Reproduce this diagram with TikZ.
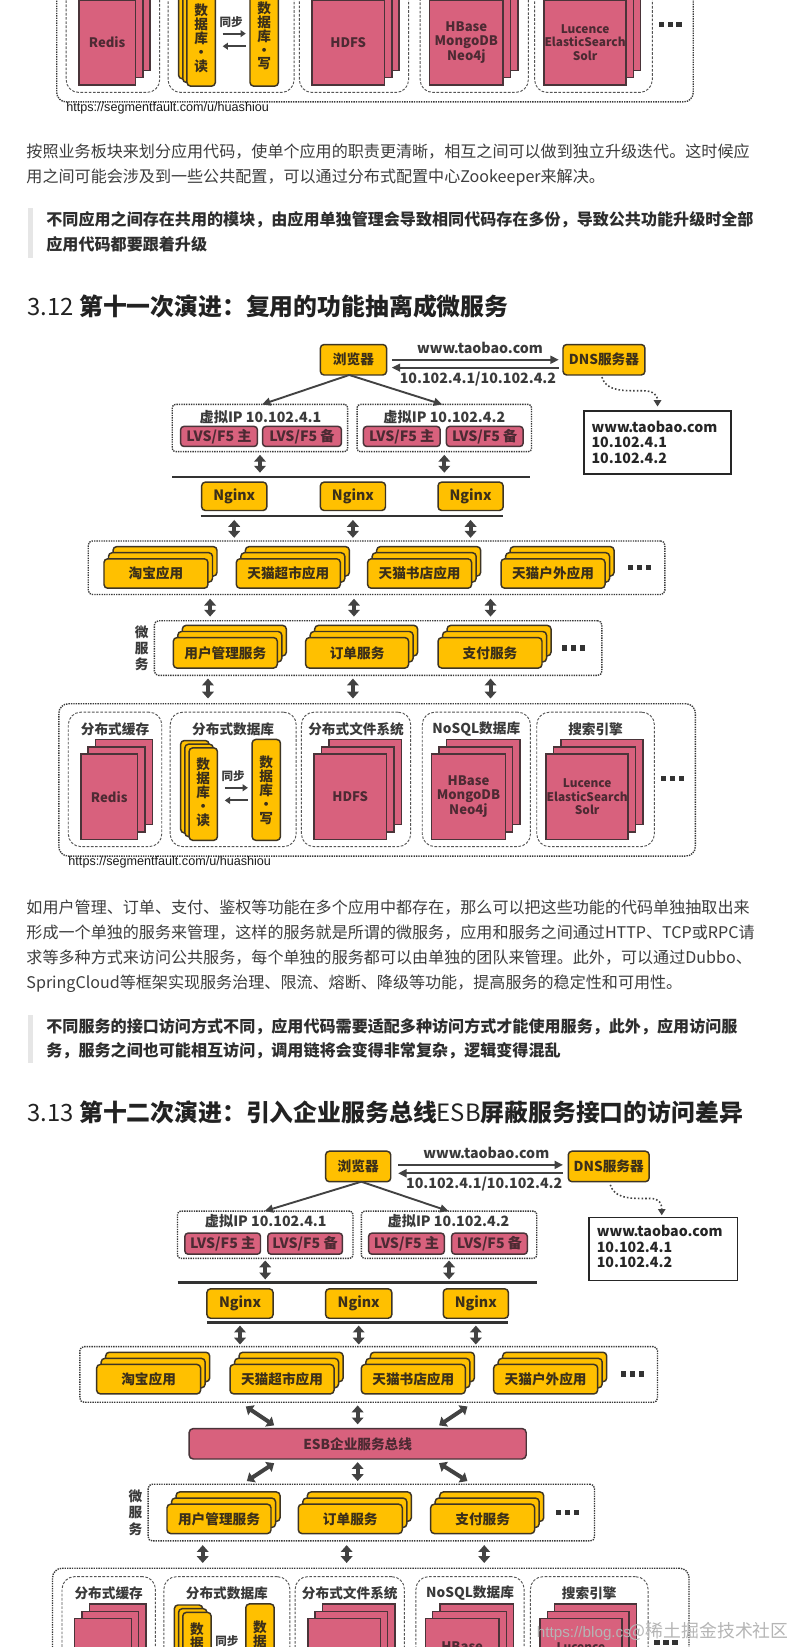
\documentclass[tikz,border=0pt]{standalone}
\usepackage{fontspec}
\setmainfont{Noto Sans CJK SC}
\newfontfamily\dgfam{Noto Sans CJK SC}
\newfontfamily\urlfam{Liberation Sans}
\usetikzlibrary{arrows.meta}
\definecolor{yfill}{HTML}{FFC000}
\definecolor{ybord}{HTML}{3E3524}
\definecolor{pfill}{HTML}{D8617D}
\definecolor{pbord}{HTML}{4A3439}
\definecolor{ytext}{HTML}{3B2F1A}
\definecolor{ptext}{HTML}{4D2A33}
\definecolor{lblc}{HTML}{3A3A3A}
\definecolor{arrc}{HTML}{424242}
\definecolor{busc}{HTML}{333333}
\definecolor{dotc}{HTML}{3A3A3A}
\definecolor{dashc}{HTML}{555555}
\definecolor{dotsc}{HTML}{333333}
\definecolor{bodyc}{HTML}{3D3D3D}
\definecolor{bqc}{HTML}{2E2E2E}
\definecolor{headc}{HTML}{222222}
\definecolor{barc}{HTML}{E6E6E6}
\definecolor{urlc}{HTML}{1A1A1A}
\definecolor{wmc}{HTML}{B5B5B5}
\newcommand\dgfont{\dgfam\bfseries\fontsize{13}{15}\selectfont}
\newcommand\dglat{\dgfam\bfseries\fontsize{13.5}{14.8}\selectfont}
\newcommand\bodyfont{\fontsize{15.3}{18}\selectfont}
\newcommand\bqfont{\bfseries\fontsize{15.3}{18}\selectfont}
\newcommand\hdfont{\fontsize{22.7}{26}\selectfont}
\tikzset{
 ybox/.style={draw=ybord, fill=yfill, line width=1.4pt, rounded corners=3.5pt, inner sep=0pt, outer sep=0pt, text=ytext, font=\dgfont},
 ylayer/.style={draw=ybord, fill=yfill, line width=1.4pt, rounded corners=3.5pt},
 pbox/.style={draw=pbord, fill=pfill, line width=1.4pt, inner sep=0pt, outer sep=0pt, text=ptext, font=\dgfont, align=center},
 player/.style={draw=pbord, fill=pfill, line width=1.4pt},
 lvsbox/.style={pbox, rounded corners=3pt, font=\dglat},
 esbbox/.style={pbox, rounded corners=4pt},
 outerc/.style={draw=dotc, line width=1.3pt, densely dotted, rounded corners=9pt, inner sep=0pt, outer sep=0pt},
 innerc/.style={draw=dashc, line width=0.9pt, dash pattern=on 2.5pt off 1.5pt, rounded corners=12pt, inner sep=0pt, outer sep=0pt},
 ctbox/.style={draw=dotc, line width=1.3pt, densely dotted, rounded corners=4pt, inner sep=0pt, outer sep=0pt},
 vipbox/.style={ctbox, rounded corners=3pt},
 wbox/.style={draw=black!85, line width=1.6pt, inner sep=0pt, outer sep=0pt},
 lbl/.style={inner sep=0pt, text=lblc, font=\dglat},
 ttl/.style={inner sep=0pt, text=lblc, font=\dgfont},
 plbl/.style={inner sep=0pt, text=ptext, align=center, font={\dgfam\bfseries\fontsize{12.5}{13.2}\selectfont}},
 plbls/.style={inner sep=0pt, text=ptext, align=center, font={\dgfam\bfseries\fontsize{11.3}{13.2}\selectfont}},
 vlbl/.style={inner sep=0pt, text=ytext, align=center, font={\dgfam\bfseries\fontsize{13}{13.2}\selectfont}},
 sylbl/.style={inner sep=0pt, text=lblc, font={\dgfam\bfseries\fontsize{11}{12}\selectfont}},
 vtl/.style={inner sep=0pt, text=lblc, align=center, font={\dgfam\bfseries\fontsize{13}{15.5}\selectfont}},
 wtxt/.style={inner sep=0pt, anchor=west, align=left, text=black!85, font={\dgfam\bfseries\fontsize{13.5}{14.8}\selectfont}},
 dbl/.style={draw=arrc, line width=3.8pt, {Triangle[width=11pt,length=6.5pt]}-{Triangle[width=11pt,length=6.5pt]}},
 smarr/.style={draw=arrc, line width=2pt, -{Triangle[width=6.5pt,length=5pt]}},
 thinarr/.style={draw=arrc, line width=1.8pt, -{Triangle[width=7.5pt,length=8pt]}},
 dotarr/.style={draw=arrc, line width=1.5pt, dotted, -{Triangle[width=7pt,length=6pt]}},
 bus/.style={draw=busc, line width=2.2pt},
 body/.style={anchor=west, inner sep=0pt, text=bodyc, font=\bodyfont, text height=0.88em, text depth=0.12em},
 bq/.style={anchor=west, inner sep=0pt, text=bqc, font=\bqfont, text height=0.88em, text depth=0.12em},
 hd/.style={anchor=west, inner sep=0pt, text=headc, font=\hdfont, text height=0.88em, text depth=0.12em},
 urlst/.style={anchor=west, inner sep=0pt, text=urlc, font={\urlfam\fontsize{12}{14}\selectfont}},
}
% box node from corners: style, name, x1, y1, x2, y2, text
\newcommand\bx[7]{\node[#1, minimum width={(#5)-(#3)}, minimum height={(#6)-(#4)}] (#2) at ({((#3)+(#5))/2},{((#4)+(#6))/2}) {#7};}
% yellow stack: name, x1, y1, x2, y2, dx, dy, text
\newcommand\ystack[8]{%
 \filldraw[ylayer] ({#2+2*(#6)},{#3+2*(#7)}) rectangle ({#4+2*(#6)},{#5+2*(#7)});
 \filldraw[ylayer] ({#2+(#6)},{#3+(#7)}) rectangle ({#4+(#6)},{#5+(#7)});
 \bx{ybox}{#1}{#2}{#3}{#4}{#5}{#8}}
% pink stack: name, x1, y1, x2, y2
\newcommand\pstack[5]{%
 \filldraw[player] ({#2+14},{#3-14}) rectangle ({#4+14},{#5-14});
 \filldraw[player] ({#2+7},{#3-7}) rectangle ({#4+7},{#5-7});
 \bx{pbox}{#1}{#2}{#3}{#4}{#5}{}}
\newcommand\threedots[2]{%
 \fill[dotsc] (#1,{#2-2.5}) rectangle ++(5,5);
 \fill[dotsc] ({#1+8.5},{#2-2.5}) rectangle ++(5,5);
 \fill[dotsc] ({#1+17},{#2-2.5}) rectangle ++(5,5);}
% storage layer shapes: dx, dy, prefix
\newcommand\storeshapes[3]{%
\begin{scope}[shift={(#1,#2)}]
 \bx{outerc}{#3o}{56}{670}{662}{815}{}
 \bx{innerc}{#3i1}{65}{678}{154}{806}{}
 \bx{innerc}{#3i2}{162}{678}{282}{806}{}
 \bx{innerc}{#3i3}{287}{678}{391}{806}{}
 \bx{innerc}{#3i4}{402}{678}{505}{806}{}
 \bx{innerc}{#3i5}{511}{678}{623}{806}{}
 \pstack{#3p1}{77}{718}{131}{799}
 \pstack{#3p3}{299}{718}{368}{799}
 \pstack{#3p4}{411}{718}{481}{799}
 \pstack{#3p5}{520}{718}{598}{799}
 \filldraw[ylayer] (172,705) rectangle (199,793);
 \filldraw[ylayer] (176,708.5) rectangle (203,796.5);
 \bx{ybox}{#3rd}{180}{712}{207}{800}{}
 \bx{ybox}{#3wr}{240}{704}{267}{800}{}
 \coordinate (#3sa) at (214,750); \coordinate (#3sb) at (236,750);
 \coordinate (#3sc) at (236,762); \coordinate (#3sd) at (214,762);
 \draw[smarr] (#3sa) -- (#3sb);
 \draw[smarr] (#3sc) -- (#3sd);
 \threedots{629}{741}
\end{scope}}
\newcommand\storetitles[3]{%
\begin{scope}[shift={(#1,#2)}]
 \node[ttl] (#3t1) at (109.5,694) {分布式缓存};
 \node[ttl] (#3t2) at (222,694) {分布式数据库};
 \node[ttl] (#3t3) at (339,694) {分布式文件系统};
 \node[ttl] (#3t4) at (453.5,694) {NoSQL数据库};
 \node[ttl] (#3t5) at (567,694) {搜索引擎};
\end{scope}}
\newcommand\storelabels[3]{%
\begin{scope}[shift={(#1,#2)}]
 \node[plbl] (#3lr) at (104,758.5) {Redis};
 \node[plbl] (#3lh) at (333.5,758.5) {HDFS};
 \node[plbl] (#3ln) at (446,758.5) {HBase\\MongoDB\\Neo4j};
 \node[plbls] (#3le) at (559,758.5) {Lucence\\ElasticSearch\\Solr};
 \node[vlbl, anchor=north] (#3lrt) at (193.5,721.5) {数\\据\\库\\·\\读};
 \node[vlbl, anchor=north] (#3lwt) at (253.5,719.5) {数\\据\\库\\·\\写};
 \node[sylbl] (#3lsy) at (222,739) {同步};
\end{scope}}
\begin{document}
\begin{tikzpicture}[x=1pt,y=-1pt]
\useasboundingbox (0,0) rectangle (751,1568);
\clip (0,0) rectangle (751,1568);
\fill[white] (0,0) rectangle (751,1568);

% ===== continuation of previous diagram
\storeshapes{-2}{-718}{s0}
\storelabels{-2}{-718}{s0}
\node[urlst] (url0) at (63,103) {https://segmentfault.com/u/huashiou};

% ===== text block 1
\node[body] (p1a) at (25,146) {按照业务板块来划分应用代码，使单个应用的职责更清晰，相互之间可以做到独立升级迭代。这时候应};
\node[body] (p1b) at (25,170) {用之间可能会涉及到一些公共配置，可以通过分布式配置中心Zookeeper来解决。};
\fill[barc] (27,198) rectangle (31,246);
\node[bq] (q1a) at (44,211) {不同应用之间存在共用的模块，由应用单独管理会导致相同代码存在多份，导致公共功能升级时全部};
\node[bq] (q1b) at (44,235) {应用代码都要跟着升级};
\node[hd] (h1) at (26,297) {3.12 {\bfseries 第十一次演进：复用的功能抽离成微服务}};

% ===== diagram 3.12
\bx{ybox}{br1}{305}{328}{368}{357}{浏览器}
\bx{ybox}{dns1}{536}{328}{614}{357}{DNS服务器}
\draw[thinarr] ([xshift=5pt]br1.east) -- ([xshift=-4pt]dns1.west);
\draw[thinarr] ([xshift=-4pt,yshift=-7.5pt]dns1.west) -- ([xshift=5pt,yshift=-7.5pt]br1.east);
\node[lbl] (wl1) at (457,331) {www.taobao.com};
\node[lbl] (il1) at (455,361) {10.102.4.1/10.102.4.2};
\bx{wbox}{www1}{556}{391}{696}{451}{}
\node[wtxt] (wt1) at (563,421) {www.taobao.com\\10.102.4.1\\10.102.4.2};
\draw[dotarr] ([xshift=-2pt,yshift=-2pt]dns1.south) .. controls (577,371) and (589,372) .. (604,372) -- (612,372) .. controls (623,372) and (626,377) .. ([yshift=4pt]www1.north);
\bx{vipbox}{vip1}{164}{385}{331}{430}{}
\bx{vipbox}{vip2}{340}{385}{506}{430}{}
\draw[thinarr] ([xshift=-4pt]br1.south) -- ([xshift=2pt]vip1.north);
\draw[thinarr] ([xshift=-4pt]br1.south) -- ([xshift=-2pt]vip2.north);
\node[lbl] (vl1) at (248,397) {虚拟IP 10.102.4.1};
\node[lbl] (vl2) at (423,397) {虚拟IP 10.102.4.2};
\bx{lvsbox}{l11}{172}{406}{245}{425}{LVS/F5 主}
\bx{lvsbox}{l12}{250}{406}{325}{425}{LVS/F5 备}
\bx{lvsbox}{l21}{346}{406}{419}{425}{LVS/F5 主}
\bx{lvsbox}{l22}{425}{406}{498}{425}{LVS/F5 备}
\coordinate (b1l) at (164,454); \coordinate (b1r) at (505,454);
\draw[bus] (b1l) -- (b1r);
\draw[dbl, shorten <=3pt, shorten >=4pt] (vip1.south) -- (vip1.south |- b1l);
\draw[dbl, shorten <=3pt, shorten >=4pt] (vip2.south) -- (vip2.south |- b1l);
\bx{ybox}{n11}{192}{459}{254}{486}{\dglat Nginx}
\bx{ybox}{n12}{305}{459}{367}{486}{\dglat Nginx}
\bx{ybox}{n13}{417}{459}{479}{486}{\dglat Nginx}
\coordinate (b2l) at (191,491); \coordinate (b2r) at (479,491);
\draw[bus] (b2l) -- (b2r);
\bx{ctbox}{app1}{84}{515}{633}{566}{}
\draw[dbl, shorten <=4pt, shorten >=3pt] (n11.south |- b2l) -- (n11.south |- app1.north);
\draw[dbl, shorten <=4pt, shorten >=3pt] (n12.south |- b2l) -- (n12.south |- app1.north);
\draw[dbl, shorten <=4pt, shorten >=3pt] (n13.south |- b2l) -- (n13.south |- app1.north);
\ystack{a11}{99}{532}{198}{560}{4.3}{-5.8}{淘宝应用}
\ystack{a12}{225}{532}{324}{560}{4.3}{-5.8}{天猫超市应用}
\ystack{a13}{350}{532}{449}{560}{4.3}{-5.8}{天猫书店应用}
\ystack{a14}{477}{532}{576}{560}{4.3}{-5.8}{天猫户外应用}
\threedots{598}{540}
\bx{ctbox}{mic1}{147}{591}{573}{643}{}
\coordinate (x11) at (200,0); \coordinate (x12) at (337,0); \coordinate (x13) at (467,0);
\draw[dbl, shorten <=4pt, shorten >=4pt] (app1.south -| x11) -- (mic1.north -| x11);
\draw[dbl, shorten <=4pt, shorten >=4pt] (app1.south -| x12) -- (mic1.north -| x12);
\draw[dbl, shorten <=4pt, shorten >=4pt] (app1.south -| x13) -- (mic1.north -| x13);
\node[vtl] (wf1) at (135,617) {微\\服\\务};
\ystack{m11}{165}{607}{264}{636}{4.3}{-5.8}{用户管理服务}
\ystack{m12}{291}{607}{389}{636}{4.3}{-5.8}{订单服务}
\ystack{m13}{417}{607}{516}{636}{4.3}{-5.8}{支付服务}
\threedots{535}{617}
\storeshapes{0}{0}{s1}
\storetitles{0}{0}{s1}
\storelabels{0}{0}{s1}
\coordinate (x14) at (198,0); \coordinate (x15) at (336,0); \coordinate (x16) at (467,0);
\draw[dbl, shorten <=3pt, shorten >=5pt] (mic1.south -| x14) -- (s1o.north -| x14);
\draw[dbl, shorten <=3pt, shorten >=5pt] (mic1.south -| x15) -- (s1o.north -| x15);
\draw[dbl, shorten <=3pt, shorten >=5pt] (mic1.south -| x16) -- (s1o.north -| x16);
\node[urlst] (url1) at (65,821) {https://segmentfault.com/u/huashiou};

% ===== text block 2
\node[body] (p2a) at (25,866) {如用户管理、订单、支付、鉴权等功能在多个应用中都存在，那么可以把这些功能的代码单独抽取出来};
\node[body] (p2b) at (25,890) {形成一个单独的服务来管理，这样的服务就是所谓的微服务，应用和服务之间通过HTTP、TCP或RPC请};
\node[body] (p2c) at (25,913) {求等多种方式来访问公共服务，每个单独的服务都可以由单独的团队来管理。此外，可以通过Dubbo、};
\node[body] (p2d) at (25,937) {SpringCloud等框架实现服务治理、限流、熔断、降级等功能，提高服务的稳定性和可用性。};
\fill[barc] (27,966) rectangle (31,1012);
\node[bq] (q2a) at (44,979) {不同服务的接口访问方式不同，应用代码需要适配多种访问方式才能使用服务，此外，应用访问服};
\node[bq] (q2b) at (44,1002) {务，服务之间也可能相互访问，调用链将会变得非常复杂，逻辑变得混乱};
\node[hd] (h2) at (26,1064) {3.13 {\bfseries 第十二次演进：引入企业服务总线}ESB{\bfseries 屏蔽服务接口的访问差异}};

% ===== diagram 3.13
\bx{ybox}{br2}{310}{1096}{372}{1125}{浏览器}
\bx{ybox}{dns2}{541}{1096}{618}{1125}{DNS服务器}
\draw[thinarr] ([xshift=7pt,yshift=1.5pt]br2.east) -- ([xshift=-5pt,yshift=1.5pt]dns2.west);
\draw[thinarr] ([xshift=-5pt,yshift=-6.5pt]dns2.west) -- ([xshift=7pt,yshift=-6.5pt]br2.east);
\node[lbl] (wl2) at (463,1098) {www.taobao.com};
\node[lbl] (il2) at (461,1127) {10.102.4.1/10.102.4.2};
\bx{wbox}{www2}{561}{1159}{702}{1219}{}
\node[wtxt] (wt2) at (568,1187) {www.taobao.com\\10.102.4.1\\10.102.4.2};
\draw[dotarr] ([xshift=1.5pt,yshift=-3pt]dns2.south) .. controls (585,1140) and (597,1141) .. (612,1141) -- (619,1141) .. controls (628,1141) and (630,1146) .. ([xshift=-1.5pt,yshift=2pt]www2.north);
\bx{vipbox}{vip3}{169}{1153}{336}{1198}{}
\bx{vipbox}{vip4}{344}{1153}{511}{1198}{}
\draw[thinarr] ([xshift=3pt]br2.south) -- ([xshift=-0.5pt]vip3.north);
\draw[thinarr] ([xshift=3pt]br2.south) -- ([xshift=-0.5pt]vip4.north);
\node[lbl] (vl3) at (253,1163) {虚拟IP 10.102.4.1};
\node[lbl] (vl4) at (427,1163) {虚拟IP 10.102.4.2};
\bx{lvsbox}{l31}{176}{1174}{248}{1194}{LVS/F5 主}
\bx{lvsbox}{l32}{255}{1174}{326}{1194}{LVS/F5 备}
\bx{lvsbox}{l41}{351}{1174}{423}{1194}{LVS/F5 主}
\bx{lvsbox}{l42}{430}{1174}{502}{1194}{LVS/F5 备}
\coordinate (b3l) at (169,1221); \coordinate (b3r) at (511,1221);
\draw[bus] (b3l) -- (b3r);
\draw[dbl, shorten <=2pt, shorten >=3pt] (vip3.south) -- (vip3.south |- b3l);
\draw[dbl, shorten <=2pt, shorten >=3pt] (vip4.south) -- (vip4.south |- b3l);
\bx{ybox}{n21}{197}{1227}{260}{1255}{\dglat Nginx}
\bx{ybox}{n22}{310}{1227}{373}{1255}{\dglat Nginx}
\bx{ybox}{n23}{422}{1227}{484}{1255}{\dglat Nginx}
\coordinate (b4l) at (197,1259); \coordinate (b4r) at (484,1259);
\draw[bus] (b4l) -- (b4r);
\bx{ctbox}{app2}{76}{1282}{626}{1335}{}
\draw[dbl, shorten <=3pt, shorten >=2pt] (n21.south |- b4l) -- (n21.south |- app2.north);
\draw[dbl, shorten <=3pt, shorten >=2pt] (n22.south |- b4l) -- (n22.south |- app2.north);
\draw[dbl, shorten <=3pt, shorten >=2pt] (n23.south |- b4l) -- (n23.south |- app2.north);
\ystack{a21}{92}{1299}{191}{1327}{4.3}{-5.8}{淘宝应用}
\ystack{a22}{219}{1299}{318}{1327}{4.3}{-5.8}{天猫超市应用}
\ystack{a23}{344}{1299}{443}{1327}{4.3}{-5.8}{天猫书店应用}
\ystack{a24}{470}{1299}{569}{1327}{4.3}{-5.8}{天猫户外应用}
\threedots{591}{1308}
\bx{esbbox}{esb}{180}{1360}{501}{1389}{ESB企业服务总线}
\coordinate (e1a) at (234,1339); \coordinate (e1b) at (261,1357);
\coordinate (e2a) at (340.5,1338); \coordinate (e2b) at (340.5,1356);
\coordinate (e3a) at (445,1339); \coordinate (e3b) at (418,1357);
\draw[dbl] (e1a) -- (e1b);
\draw[dbl] (e2a) -- (e2b);
\draw[dbl] (e3a) -- (e3b);
\bx{ctbox}{mic2}{141}{1413}{566}{1467}{}
\coordinate (e4a) at (261,1393); \coordinate (e4b) at (235,1410);
\coordinate (e5a) at (340.5,1392); \coordinate (e5b) at (340.5,1410);
\coordinate (e6a) at (418,1393); \coordinate (e6b) at (445,1410);
\draw[dbl] (e4a) -- (e4b);
\draw[dbl] (e5a) -- (e5b);
\draw[dbl] (e6a) -- (e6b);
\node[vtl] (wf2) at (129,1440) {微\\服\\务};
\ystack{m21}{159}{1432}{258}{1460}{4.3}{-5.8}{用户管理服务}
\ystack{m22}{284}{1432}{383}{1460}{4.3}{-5.8}{订单服务}
\ystack{m23}{410}{1432}{509}{1460}{4.3}{-5.8}{支付服务}
\threedots{529}{1440}
\storeshapes{-6}{823}{s2}
\storetitles{-6}{823}{s2}
\coordinate (x21) at (193,0); \coordinate (x22) at (330,0); \coordinate (x23) at (461,0);
\draw[dbl, shorten <=4pt, shorten >=5pt] (mic2.south -| x21) -- (s2o.north -| x21);
\draw[dbl, shorten <=4pt, shorten >=5pt] (mic2.south -| x22) -- (s2o.north -| x22);
\draw[dbl, shorten <=4pt, shorten >=5pt] (mic2.south -| x23) -- (s2o.north -| x23);
\node[plbl] (s2ln) at (440,1568) {HBase};
\node[plbls] (s2le) at (553,1568) {Lucence};
\node[vlbl, anchor=north] (s2lrt) at (187.5,1544.5) {数\\据};
\node[vlbl, anchor=north] (s2lwt) at (247.5,1542.5) {数\\据};
\node[sylbl] (s2lsy) at (216,1562) {同步};
% watermark
\node[anchor=west, inner sep=0pt, text=wmc] (wm) at (511,1553) {{\urlfam\fontsize{14.5}{16}\selectfont https://blog.cs}\kern-2pt{\fontsize{17}{18}\selectfont @稀土掘金技术社区}};
\end{tikzpicture}
\end{document}
